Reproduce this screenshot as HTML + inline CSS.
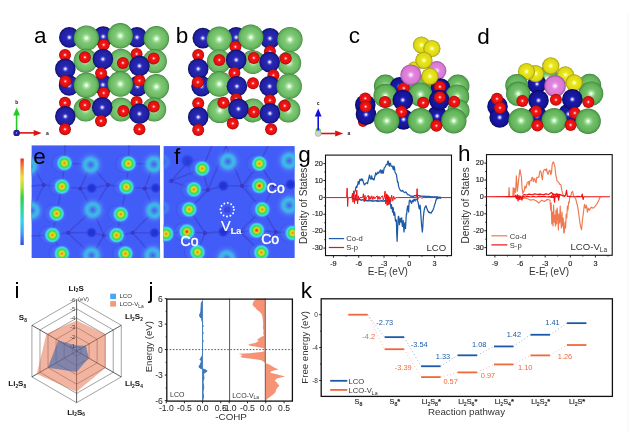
<!DOCTYPE html>
<html><head><meta charset="utf-8"><title>Figure</title>
<style>html,body{margin:0;padding:0;background:#fff;} svg{display:block;} text{font-family:'Liberation Sans', Arial, sans-serif;}</style>
</head><body>
<svg width="640" height="432" viewBox="0 0 640 432">
<defs>
<radialGradient id="gB" cx="50%" cy="50%" r="50%"><stop offset="0" stop-color="#ffffff"/><stop offset="0.06" stop-color="#e4e4ff"/><stop offset="0.17" stop-color="#6868e6"/><stop offset="0.3" stop-color="#2828b0"/><stop offset="0.78" stop-color="#2020a4"/><stop offset="0.93" stop-color="#141480"/><stop offset="1" stop-color="#080852"/></radialGradient>
<radialGradient id="gG" cx="50%" cy="50%" r="50%"><stop offset="0" stop-color="#ffffff"/><stop offset="0.06" stop-color="#f0fff0"/><stop offset="0.2" stop-color="#a8e4a0"/><stop offset="0.4" stop-color="#7ec876"/><stop offset="0.75" stop-color="#6ebc66"/><stop offset="0.92" stop-color="#5aa854"/><stop offset="1" stop-color="#3a7e38"/></radialGradient>
<radialGradient id="gb" cx="50%" cy="50%" r="50%"><stop offset="0" stop-color="#ffffff"/><stop offset="0.06" stop-color="#e4e4ff"/><stop offset="0.17" stop-color="#6060e4"/><stop offset="0.3" stop-color="#1a1aa6"/><stop offset="0.78" stop-color="#141498"/><stop offset="0.93" stop-color="#0c0c74"/><stop offset="1" stop-color="#06064a"/></radialGradient>
<radialGradient id="gg" cx="50%" cy="50%" r="50%"><stop offset="0" stop-color="#ffffff"/><stop offset="0.06" stop-color="#f0fff0"/><stop offset="0.2" stop-color="#a0e098"/><stop offset="0.4" stop-color="#72c06a"/><stop offset="0.75" stop-color="#64b45c"/><stop offset="0.92" stop-color="#52a04c"/><stop offset="1" stop-color="#347634"/></radialGradient>
<radialGradient id="gR" cx="50%" cy="50%" r="50%"><stop offset="0" stop-color="#ffffff"/><stop offset="0.08" stop-color="#ffd4d4"/><stop offset="0.2" stop-color="#ff4848"/><stop offset="0.35" stop-color="#f21616"/><stop offset="0.8" stop-color="#e20e0e"/><stop offset="1" stop-color="#a00808"/></radialGradient>
<radialGradient id="gY" cx="50%" cy="50%" r="50%"><stop offset="0" stop-color="#ffffff"/><stop offset="0.07" stop-color="#ffffd4"/><stop offset="0.2" stop-color="#f6f446"/><stop offset="0.35" stop-color="#e8e41c"/><stop offset="0.8" stop-color="#dcd816"/><stop offset="1" stop-color="#9a960a"/></radialGradient>
<radialGradient id="gP" cx="50%" cy="50%" r="50%"><stop offset="0" stop-color="#ffffff"/><stop offset="0.07" stop-color="#ffeaff"/><stop offset="0.2" stop-color="#f0aaf0"/><stop offset="0.35" stop-color="#e284de"/><stop offset="0.8" stop-color="#d87ad4"/><stop offset="1" stop-color="#a04c9c"/></radialGradient>
<radialGradient id="hs" cx="50%" cy="50%" r="50%">
<stop offset="0" stop-color="#f07a1e"/><stop offset="0.12" stop-color="#f4a622"/>
<stop offset="0.25" stop-color="#e0dc26"/><stop offset="0.38" stop-color="#9ee030"/>
<stop offset="0.5" stop-color="#3ed848"/><stop offset="0.62" stop-color="#30e0a0"/>
<stop offset="0.72" stop-color="#3ae6e0"/><stop offset="0.85" stop-color="#48c0f8" stop-opacity="0.8"/>
<stop offset="1" stop-color="#4a70f6" stop-opacity="0"/></radialGradient>
<radialGradient id="hr" cx="50%" cy="50%" r="50%">
<stop offset="0" stop-color="#e41c1c"/><stop offset="0.12" stop-color="#f0601e"/>
<stop offset="0.25" stop-color="#f0c020"/><stop offset="0.38" stop-color="#a8e030"/>
<stop offset="0.5" stop-color="#3ed848"/><stop offset="0.62" stop-color="#30e0a0"/>
<stop offset="0.72" stop-color="#3ae6e0"/><stop offset="0.85" stop-color="#48c0f8" stop-opacity="0.8"/>
<stop offset="1" stop-color="#4a70f6" stop-opacity="0"/></radialGradient>
<radialGradient id="cy" cx="50%" cy="50%" r="50%">
<stop offset="0" stop-color="#3c5ef0"/><stop offset="0.2" stop-color="#4a80ee"/>
<stop offset="0.45" stop-color="#3cb6e2"/><stop offset="0.6" stop-color="#3cbae4"/>
<stop offset="0.8" stop-color="#48a4f2" stop-opacity="0.55"/>
<stop offset="1" stop-color="#4a70f6" stop-opacity="0"/></radialGradient>
<radialGradient id="halo" cx="50%" cy="50%" r="50%">
<stop offset="0" stop-color="#58a0f8" stop-opacity="0.5"/><stop offset="0.7" stop-color="#5090f8" stop-opacity="0.35"/>
<stop offset="1" stop-color="#4a70f6" stop-opacity="0"/></radialGradient>
<radialGradient id="dk" cx="50%" cy="50%" r="50%">
<stop offset="0" stop-color="#1e30cc"/><stop offset="0.55" stop-color="#2638d8"/>
<stop offset="1" stop-color="#4258f4" stop-opacity="0"/></radialGradient>
<radialGradient id="sh" cx="50%" cy="50%" r="50%">
<stop offset="0" stop-color="#4e70f6" stop-opacity="0.5"/><stop offset="0.75" stop-color="#4a6cf4" stop-opacity="0.4"/>
<stop offset="0.9" stop-color="#3448e0" stop-opacity="0.3"/>
<stop offset="1" stop-color="#3048e0" stop-opacity="0"/></radialGradient>
<linearGradient id="cbar" x1="0" y1="0" x2="0" y2="1">
<stop offset="0" stop-color="#e83028"/><stop offset="0.1" stop-color="#f08a30"/>
<stop offset="0.22" stop-color="#f0e030"/><stop offset="0.33" stop-color="#b0e030"/>
<stop offset="0.45" stop-color="#30d040"/><stop offset="0.6" stop-color="#30d8a0"/>
<stop offset="0.72" stop-color="#30d8e8"/><stop offset="0.86" stop-color="#40a0f0"/>
<stop offset="1" stop-color="#3848e8"/></linearGradient>
<filter id="blur" x="-10%" y="-10%" width="120%" height="120%"><feGaussianBlur stdDeviation="0.5"/></filter>
<clipPath id="ce"><rect x="31.4" y="145.2" width="128.7" height="112.8"/></clipPath>
<clipPath id="cf"><rect x="163.4" y="146.1" width="131.4" height="111.9"/></clipPath>
</defs>
<rect x="0" y="0" width="640" height="432" fill="#fff"/>
<text x="34.1" y="43.4" font-size="22.5" text-anchor="start" fill="#000" font-weight="normal" >a</text>
<text x="175.7" y="43.3" font-size="22.5" text-anchor="start" fill="#000" font-weight="normal" >b</text>
<text x="348.7" y="43.3" font-size="22.5" text-anchor="start" fill="#000" font-weight="normal" >c</text>
<text x="477.3" y="43.9" font-size="22.5" text-anchor="start" fill="#000" font-weight="normal" >d</text>
<circle cx="103.2" cy="36.6" r="10.3" fill="url(#gB)"/>
<circle cx="69.3" cy="37.4" r="10.3" fill="url(#gB)"/>
<circle cx="137.0" cy="37.3" r="10.3" fill="url(#gB)"/>
<circle cx="86.4" cy="38.1" r="12.7" fill="url(#gG)"/>
<circle cx="120.3" cy="35.8" r="12.7" fill="url(#gG)"/>
<circle cx="156.4" cy="38.8" r="12.7" fill="url(#gG)"/>
<circle cx="85.6" cy="60.8" r="12.0" fill="url(#gG)"/>
<circle cx="121.0" cy="60.8" r="12.0" fill="url(#gG)"/>
<circle cx="154.9" cy="61.2" r="12.0" fill="url(#gG)"/>
<circle cx="65.0" cy="54.9" r="6.0" fill="url(#gR)"/>
<circle cx="103.7" cy="44.8" r="6.0" fill="url(#gR)"/>
<circle cx="136.6" cy="53.9" r="6.0" fill="url(#gR)"/>
<circle cx="65.3" cy="68.9" r="10.3" fill="url(#gB)"/>
<circle cx="102.9" cy="59.1" r="10.3" fill="url(#gB)"/>
<circle cx="139.4" cy="65.9" r="10.3" fill="url(#gB)"/>
<circle cx="84.9" cy="57.3" r="6.0" fill="url(#gR)"/>
<circle cx="122.9" cy="62.9" r="6.0" fill="url(#gR)"/>
<circle cx="153.7" cy="58.4" r="6.0" fill="url(#gR)"/>
<circle cx="69.1" cy="85.5" r="10.3" fill="url(#gB)"/>
<circle cx="102.9" cy="84.8" r="10.3" fill="url(#gB)"/>
<circle cx="137.6" cy="86.3" r="10.3" fill="url(#gB)"/>
<circle cx="65.3" cy="81.3" r="6.0" fill="url(#gR)"/>
<circle cx="101.1" cy="73.2" r="6.0" fill="url(#gR)"/>
<circle cx="139.4" cy="80.6" r="6.0" fill="url(#gR)"/>
<circle cx="86.4" cy="85.3" r="12.7" fill="url(#gG)"/>
<circle cx="120.3" cy="84.0" r="12.7" fill="url(#gG)"/>
<circle cx="156.4" cy="86.8" r="12.7" fill="url(#gG)"/>
<circle cx="85.6" cy="109.6" r="12.0" fill="url(#gG)"/>
<circle cx="121.0" cy="109.6" r="12.0" fill="url(#gG)"/>
<circle cx="154.2" cy="109.6" r="12.0" fill="url(#gG)"/>
<circle cx="65.0" cy="102.8" r="6.0" fill="url(#gR)"/>
<circle cx="103.7" cy="93.0" r="6.0" fill="url(#gR)"/>
<circle cx="136.6" cy="102.1" r="6.0" fill="url(#gR)"/>
<circle cx="65.3" cy="116.4" r="10.3" fill="url(#gB)"/>
<circle cx="102.2" cy="107.4" r="10.3" fill="url(#gB)"/>
<circle cx="139.4" cy="113.8" r="10.3" fill="url(#gB)"/>
<circle cx="84.9" cy="105.1" r="6.0" fill="url(#gR)"/>
<circle cx="123.3" cy="111.1" r="6.0" fill="url(#gR)"/>
<circle cx="153.7" cy="106.6" r="6.0" fill="url(#gR)"/>
<circle cx="65.0" cy="129.2" r="6.0" fill="url(#gR)"/>
<circle cx="101.0" cy="120.9" r="6.0" fill="url(#gR)"/>
<circle cx="139.4" cy="129.2" r="6.0" fill="url(#gR)"/>
<circle cx="236.2" cy="37.3" r="10.3" fill="url(#gB)"/>
<circle cx="202.8" cy="38.1" r="10.3" fill="url(#gB)"/>
<circle cx="269.9" cy="38.4" r="10.3" fill="url(#gB)"/>
<circle cx="219.3" cy="39.3" r="12.7" fill="url(#gG)"/>
<circle cx="250.8" cy="37.3" r="12.7" fill="url(#gG)"/>
<circle cx="289.9" cy="39.6" r="12.7" fill="url(#gG)"/>
<circle cx="269.9" cy="51.6" r="6.0" fill="url(#gR)"/>
<circle cx="218.9" cy="61.4" r="12.0" fill="url(#gG)"/>
<circle cx="253.0" cy="62.1" r="12.0" fill="url(#gG)"/>
<circle cx="289.2" cy="62.9" r="12.0" fill="url(#gG)"/>
<circle cx="198.2" cy="54.9" r="6.0" fill="url(#gR)"/>
<circle cx="235.4" cy="46.8" r="6.0" fill="url(#gR)"/>
<circle cx="198.2" cy="68.9" r="10.3" fill="url(#gB)"/>
<circle cx="236.2" cy="59.9" r="10.3" fill="url(#gB)"/>
<circle cx="269.6" cy="62.1" r="10.3" fill="url(#gB)"/>
<circle cx="219.3" cy="59.9" r="6.0" fill="url(#gR)"/>
<circle cx="253.8" cy="57.9" r="6.0" fill="url(#gR)"/>
<circle cx="285.7" cy="58.4" r="6.0" fill="url(#gR)"/>
<circle cx="201.6" cy="86.3" r="10.3" fill="url(#gB)"/>
<circle cx="197.8" cy="82.2" r="6.0" fill="url(#gR)"/>
<circle cx="234.4" cy="73.0" r="6.0" fill="url(#gR)"/>
<circle cx="273.4" cy="75.3" r="6.0" fill="url(#gR)"/>
<circle cx="219.3" cy="84.0" r="12.7" fill="url(#gG)"/>
<circle cx="236.9" cy="86.3" r="10.3" fill="url(#gB)"/>
<circle cx="269.6" cy="86.3" r="10.3" fill="url(#gB)"/>
<circle cx="289.2" cy="86.3" r="12.7" fill="url(#gG)"/>
<circle cx="253.0" cy="83.3" r="6.0" fill="url(#gR)"/>
<circle cx="236.2" cy="99.1" r="6.0" fill="url(#gR)"/>
<circle cx="269.9" cy="100.3" r="6.0" fill="url(#gR)"/>
<circle cx="253.0" cy="110.4" r="12.0" fill="url(#gG)"/>
<circle cx="288.4" cy="110.4" r="12.0" fill="url(#gG)"/>
<circle cx="219.9" cy="110.4" r="12.7" fill="url(#gG)"/>
<circle cx="198.2" cy="103.3" r="6.0" fill="url(#gR)"/>
<circle cx="223.4" cy="102.8" r="6.0" fill="url(#gR)"/>
<circle cx="198.2" cy="117.1" r="10.3" fill="url(#gB)"/>
<circle cx="238.4" cy="108.9" r="10.3" fill="url(#gB)"/>
<circle cx="269.9" cy="113.4" r="10.3" fill="url(#gB)"/>
<circle cx="253.8" cy="111.9" r="6.0" fill="url(#gR)"/>
<circle cx="284.7" cy="105.8" r="6.0" fill="url(#gR)"/>
<circle cx="198.2" cy="129.9" r="6.0" fill="url(#gR)"/>
<circle cx="232.8" cy="123.5" r="6.0" fill="url(#gR)"/>
<circle cx="271.1" cy="129.2" r="6.0" fill="url(#gR)"/>
<circle cx="421.5" cy="45.0" r="8.6" fill="url(#gY)"/>
<circle cx="431.9" cy="48.5" r="8.6" fill="url(#gY)"/>
<circle cx="414.0" cy="68.0" r="6.5" fill="url(#gY)"/>
<circle cx="436.8" cy="70.7" r="9.6" fill="url(#gP)"/>
<circle cx="423.9" cy="60.3" r="8.6" fill="url(#gY)"/>
<circle cx="385.4" cy="86.1" r="11.5" fill="url(#gg)"/>
<circle cx="420.4" cy="86.0" r="11.5" fill="url(#gg)"/>
<circle cx="457.9" cy="86.1" r="11.5" fill="url(#gg)"/>
<circle cx="399.5" cy="86.5" r="9.5" fill="url(#gb)"/>
<circle cx="440.5" cy="88.0" r="9.8" fill="url(#gb)"/>
<circle cx="403.8" cy="88.2" r="6.0" fill="url(#gR)"/>
<circle cx="439.9" cy="86.8" r="6.0" fill="url(#gR)"/>
<circle cx="410.8" cy="74.9" r="10.5" fill="url(#gP)"/>
<circle cx="429.9" cy="76.3" r="8.6" fill="url(#gY)"/>
<circle cx="385.4" cy="95.8" r="12.0" fill="url(#gg)"/>
<circle cx="420.4" cy="94.4" r="12.0" fill="url(#gg)"/>
<circle cx="457.2" cy="96.5" r="12.0" fill="url(#gg)"/>
<circle cx="365.3" cy="104.9" r="10.3" fill="url(#gb)"/>
<circle cx="365.3" cy="98.4" r="6.0" fill="url(#gR)"/>
<circle cx="403.5" cy="119.4" r="10.3" fill="url(#gb)"/>
<circle cx="437.1" cy="116.0" r="10.3" fill="url(#gb)"/>
<circle cx="458.5" cy="110.5" r="11.0" fill="url(#gg)"/>
<circle cx="385.0" cy="102.1" r="6.0" fill="url(#gR)"/>
<circle cx="402.8" cy="100.0" r="10.3" fill="url(#gb)"/>
<circle cx="439.2" cy="100.0" r="10.3" fill="url(#gb)"/>
<circle cx="439.9" cy="97.2" r="6.0" fill="url(#gR)"/>
<circle cx="423.2" cy="102.8" r="6.0" fill="url(#gR)"/>
<circle cx="454.2" cy="101.7" r="6.0" fill="url(#gR)"/>
<circle cx="401.4" cy="111.8" r="6.0" fill="url(#gR)"/>
<circle cx="363.0" cy="122.0" r="5.0" fill="url(#gR)"/>
<circle cx="366.0" cy="114.6" r="10.3" fill="url(#gb)"/>
<circle cx="365.6" cy="106.6" r="6.0" fill="url(#gR)"/>
<circle cx="386.8" cy="120.8" r="12.7" fill="url(#gg)"/>
<circle cx="420.4" cy="120.8" r="12.7" fill="url(#gg)"/>
<circle cx="453.8" cy="120.8" r="12.7" fill="url(#gg)"/>
<circle cx="436.4" cy="125.7" r="6.0" fill="url(#gR)"/>
<circle cx="546.7" cy="78.3" r="11.5" fill="url(#gg)"/>
<circle cx="537.0" cy="84.0" r="9.5" fill="url(#gb)"/>
<circle cx="535.6" cy="73.6" r="8.6" fill="url(#gY)"/>
<circle cx="526.5" cy="71.5" r="8.6" fill="url(#gY)"/>
<circle cx="550.8" cy="65.8" r="8.6" fill="url(#gY)"/>
<circle cx="565.4" cy="74.9" r="8.6" fill="url(#gY)"/>
<circle cx="516.8" cy="85.4" r="11.5" fill="url(#gg)"/>
<circle cx="589.7" cy="85.3" r="11.5" fill="url(#gg)"/>
<circle cx="574.2" cy="82.8" r="8.6" fill="url(#gY)"/>
<circle cx="555.0" cy="86.0" r="10.8" fill="url(#gP)"/>
<circle cx="518.2" cy="93.8" r="12.2" fill="url(#gg)"/>
<circle cx="591.1" cy="93.6" r="12.2" fill="url(#gg)"/>
<circle cx="497.5" cy="106.4" r="10.3" fill="url(#gb)"/>
<circle cx="497.0" cy="98.8" r="6.0" fill="url(#gR)"/>
<circle cx="568.4" cy="114.0" r="10.3" fill="url(#gb)"/>
<circle cx="537.0" cy="116.0" r="10.3" fill="url(#gb)"/>
<circle cx="538.5" cy="100.4" r="10.3" fill="url(#gb)"/>
<circle cx="572.3" cy="99.3" r="10.3" fill="url(#gb)"/>
<circle cx="522.4" cy="100.9" r="6.0" fill="url(#gR)"/>
<circle cx="555.9" cy="99.8" r="6.0" fill="url(#gR)"/>
<circle cx="588.4" cy="102.0" r="6.0" fill="url(#gR)"/>
<circle cx="536.0" cy="111.3" r="6.0" fill="url(#gR)"/>
<circle cx="574.8" cy="113.0" r="6.0" fill="url(#gR)"/>
<circle cx="499.7" cy="117.4" r="10.3" fill="url(#gb)"/>
<circle cx="500.0" cy="107.8" r="6.0" fill="url(#gR)"/>
<circle cx="521.0" cy="120.6" r="12.7" fill="url(#gg)"/>
<circle cx="554.2" cy="120.6" r="12.7" fill="url(#gg)"/>
<circle cx="588.1" cy="121.2" r="12.7" fill="url(#gg)"/>
<circle cx="537.4" cy="125.6" r="6.0" fill="url(#gR)"/>
<circle cx="570.6" cy="125.0" r="6.0" fill="url(#gR)"/>
<line x1="16.6" y1="131" x2="16.6" y2="114.9" stroke="#22cc22" stroke-width="1.6"/><polygon points="13.200000000000001,115.4 20.0,115.4 16.6,107.4" fill="#22cc22"/>
<line x1="18" y1="132.9" x2="34.2" y2="132.9" stroke="#e01010" stroke-width="1.6"/><polygon points="33.7,129.9 33.7,135.9 41.7,132.9" fill="#e01010"/>
<circle cx="16.6" cy="132.9" r="3.2" fill="url(#gB)"/>
<text x="16.8" y="103.5" font-size="5" text-anchor="middle" fill="#111" font-weight="bold" >b</text>
<text x="47.5" y="134.5" font-size="5" text-anchor="middle" fill="#111" font-weight="bold" >a</text>
<circle cx="318.2" cy="130.5" r="2.6" fill="#33dd33"/>
<line x1="318.2" y1="131" x2="318.2" y2="116.0" stroke="#1010e0" stroke-width="1.6"/><polygon points="314.8,116.5 321.59999999999997,116.5 318.2,108.5" fill="#1010e0"/>
<line x1="320" y1="133.5" x2="335.7" y2="133.5" stroke="#e01010" stroke-width="1.6"/><polygon points="335.2,130.5 335.2,136.5 343.2,133.5" fill="#e01010"/>
<circle cx="318.2" cy="133.5" r="3.0" fill="#d0d0d0" stroke="#888" stroke-width="0.4"/>
<text x="318.2" y="105.0" font-size="5" text-anchor="middle" fill="#111" font-weight="bold" >c</text>
<text x="349.0" y="135.0" font-size="5" text-anchor="middle" fill="#111" font-weight="bold" >a</text>
<g clip-path="url(#ce)">
<rect x="31.4" y="145.2" width="128.7" height="112.8" fill="#425cf8"/>
<g filter="url(#blur)"><line x1="65" y1="145" x2="64.5" y2="163.1" stroke="#3420a0" stroke-width="1.5" stroke-opacity="0.3"/>
<line x1="64.5" y1="163.1" x2="62" y2="186.5" stroke="#3420a0" stroke-width="1.5" stroke-opacity="0.3"/>
<line x1="62" y1="186.5" x2="56.6" y2="213.6" stroke="#3420a0" stroke-width="1.5" stroke-opacity="0.3"/>
<line x1="56.6" y1="213.6" x2="52.4" y2="235" stroke="#3420a0" stroke-width="1.5" stroke-opacity="0.3"/>
<line x1="52.4" y1="235" x2="61.9" y2="253.6" stroke="#3420a0" stroke-width="1.5" stroke-opacity="0.3"/>
<line x1="61.9" y1="253.6" x2="62" y2="258" stroke="#3420a0" stroke-width="1.5" stroke-opacity="0.3"/>
<line x1="129" y1="145" x2="128.4" y2="163.6" stroke="#3420a0" stroke-width="1.5" stroke-opacity="0.3"/>
<line x1="128.4" y1="163.6" x2="126.4" y2="186.9" stroke="#3420a0" stroke-width="1.5" stroke-opacity="0.3"/>
<line x1="126.4" y1="186.9" x2="120.8" y2="214.2" stroke="#3420a0" stroke-width="1.5" stroke-opacity="0.3"/>
<line x1="120.8" y1="214.2" x2="116.6" y2="235.2" stroke="#3420a0" stroke-width="1.5" stroke-opacity="0.3"/>
<line x1="116.6" y1="235.2" x2="125.4" y2="253.6" stroke="#3420a0" stroke-width="1.5" stroke-opacity="0.3"/>
<line x1="125.4" y1="253.6" x2="126" y2="258" stroke="#3420a0" stroke-width="1.5" stroke-opacity="0.3"/>
<line x1="31" y1="186" x2="43.8" y2="185" stroke="#3420a0" stroke-width="1.5" stroke-opacity="0.3"/>
<line x1="43.8" y1="185" x2="62" y2="186.5" stroke="#3420a0" stroke-width="1.5" stroke-opacity="0.3"/>
<line x1="62" y1="186.5" x2="80.3" y2="188.6" stroke="#3420a0" stroke-width="1.5" stroke-opacity="0.3"/>
<line x1="80.3" y1="188.6" x2="91.7" y2="188.2" stroke="#3420a0" stroke-width="1.5" stroke-opacity="0.3"/>
<line x1="91.7" y1="188.2" x2="108.2" y2="185" stroke="#3420a0" stroke-width="1.5" stroke-opacity="0.3"/>
<line x1="108.2" y1="185" x2="126.4" y2="186.9" stroke="#3420a0" stroke-width="1.5" stroke-opacity="0.3"/>
<line x1="126.4" y1="186.9" x2="144.7" y2="188.6" stroke="#3420a0" stroke-width="1.5" stroke-opacity="0.3"/>
<line x1="144.7" y1="188.6" x2="155.6" y2="188.1" stroke="#3420a0" stroke-width="1.5" stroke-opacity="0.3"/>
<line x1="155.6" y1="188.1" x2="161" y2="188" stroke="#3420a0" stroke-width="1.5" stroke-opacity="0.3"/>
<line x1="31" y1="236" x2="52.4" y2="235" stroke="#3420a0" stroke-width="1.5" stroke-opacity="0.3"/>
<line x1="52.4" y1="235" x2="68" y2="232.8" stroke="#3420a0" stroke-width="1.5" stroke-opacity="0.3"/>
<line x1="68" y1="232.8" x2="91.5" y2="232.6" stroke="#3420a0" stroke-width="1.5" stroke-opacity="0.3"/>
<line x1="91.5" y1="232.6" x2="104" y2="235.5" stroke="#3420a0" stroke-width="1.5" stroke-opacity="0.3"/>
<line x1="104" y1="235.5" x2="116.6" y2="235.2" stroke="#3420a0" stroke-width="1.5" stroke-opacity="0.3"/>
<line x1="116.6" y1="235.2" x2="132.6" y2="232.8" stroke="#3420a0" stroke-width="1.5" stroke-opacity="0.3"/>
<line x1="132.6" y1="232.8" x2="154.5" y2="232.8" stroke="#3420a0" stroke-width="1.5" stroke-opacity="0.3"/>
<line x1="154.5" y1="232.8" x2="161" y2="233" stroke="#3420a0" stroke-width="1.5" stroke-opacity="0.3"/>
<line x1="80.3" y1="188.6" x2="90.7" y2="164.8" stroke="#3420a0" stroke-width="1.5" stroke-opacity="0.3"/>
<line x1="108.2" y1="185" x2="90.7" y2="164.8" stroke="#3420a0" stroke-width="1.5" stroke-opacity="0.3"/>
<line x1="80.3" y1="188.6" x2="92.8" y2="209.8" stroke="#3420a0" stroke-width="1.5" stroke-opacity="0.3"/>
<line x1="108.2" y1="185" x2="92.8" y2="209.8" stroke="#3420a0" stroke-width="1.5" stroke-opacity="0.3"/>
<line x1="144.7" y1="188.6" x2="153.9" y2="164.3" stroke="#3420a0" stroke-width="1.5" stroke-opacity="0.3"/>
<line x1="144.7" y1="188.6" x2="154.4" y2="210.5" stroke="#3420a0" stroke-width="1.5" stroke-opacity="0.3"/>
<line x1="43.8" y1="185" x2="31.6" y2="210.5" stroke="#3420a0" stroke-width="1.5" stroke-opacity="0.3"/>
<line x1="43.8" y1="185" x2="33" y2="166" stroke="#3420a0" stroke-width="1.5" stroke-opacity="0.3"/>
<line x1="68" y1="232.8" x2="92.8" y2="209.8" stroke="#3420a0" stroke-width="1.5" stroke-opacity="0.3"/>
<line x1="104" y1="235.5" x2="92.8" y2="209.8" stroke="#3420a0" stroke-width="1.5" stroke-opacity="0.3"/>
<line x1="68" y1="232.8" x2="91.5" y2="255.5" stroke="#3420a0" stroke-width="1.5" stroke-opacity="0.3"/>
<line x1="104" y1="235.5" x2="91.5" y2="255.5" stroke="#3420a0" stroke-width="1.5" stroke-opacity="0.3"/>
<line x1="132.6" y1="232.8" x2="154.4" y2="210.5" stroke="#3420a0" stroke-width="1.5" stroke-opacity="0.3"/>
<line x1="132.6" y1="232.8" x2="152.7" y2="255.5" stroke="#3420a0" stroke-width="1.5" stroke-opacity="0.3"/>
<line x1="64.5" y1="163.1" x2="90.7" y2="164.8" stroke="#3420a0" stroke-width="1.5" stroke-opacity="0.3"/>
<line x1="128.4" y1="163.6" x2="153.9" y2="164.3" stroke="#3420a0" stroke-width="1.5" stroke-opacity="0.3"/></g>
<circle cx="91.7" cy="188.2" r="6.2" fill="url(#dk)"/>
<circle cx="155.6" cy="188.1" r="6.2" fill="url(#dk)"/>
<circle cx="91.5" cy="232.6" r="6.2" fill="url(#dk)"/>
<circle cx="154.5" cy="232.8" r="6.2" fill="url(#dk)"/>
<circle cx="43.8" cy="185" r="1.7" fill="#3a38c0" fill-opacity="0.5" stroke="#3420a0" stroke-opacity="0.5" stroke-width="0.8"/>
<circle cx="80.3" cy="188.6" r="1.7" fill="#3a38c0" fill-opacity="0.5" stroke="#3420a0" stroke-opacity="0.5" stroke-width="0.8"/>
<circle cx="108.2" cy="185" r="1.7" fill="#3a38c0" fill-opacity="0.5" stroke="#3420a0" stroke-opacity="0.5" stroke-width="0.8"/>
<circle cx="144.7" cy="188.6" r="1.7" fill="#3a38c0" fill-opacity="0.5" stroke="#3420a0" stroke-opacity="0.5" stroke-width="0.8"/>
<circle cx="68" cy="232.8" r="1.7" fill="#3a38c0" fill-opacity="0.5" stroke="#3420a0" stroke-opacity="0.5" stroke-width="0.8"/>
<circle cx="104" cy="235.5" r="1.7" fill="#3a38c0" fill-opacity="0.5" stroke="#3420a0" stroke-opacity="0.5" stroke-width="0.8"/>
<circle cx="132.6" cy="232.8" r="1.7" fill="#3a38c0" fill-opacity="0.5" stroke="#3420a0" stroke-opacity="0.5" stroke-width="0.8"/>
<circle cx="60.5" cy="163.1" r="10" fill="url(#sh)"/>
<circle cx="58" cy="186.5" r="10" fill="url(#sh)"/>
<circle cx="52.6" cy="213.6" r="10" fill="url(#sh)"/>
<circle cx="48.4" cy="235" r="10" fill="url(#sh)"/>
<circle cx="57.9" cy="253.6" r="10" fill="url(#sh)"/>
<circle cx="124.4" cy="163.6" r="10" fill="url(#sh)"/>
<circle cx="122.4" cy="186.9" r="10" fill="url(#sh)"/>
<circle cx="116.8" cy="214.2" r="10" fill="url(#sh)"/>
<circle cx="112.6" cy="235.2" r="10" fill="url(#sh)"/>
<circle cx="121.4" cy="253.6" r="10" fill="url(#sh)"/>
<circle cx="29" cy="166" r="14" fill="url(#halo)"/>
<circle cx="90.7" cy="164.8" r="14" fill="url(#halo)"/>
<circle cx="153.9" cy="164.3" r="14" fill="url(#halo)"/>
<circle cx="92.8" cy="209.8" r="14" fill="url(#halo)"/>
<circle cx="154.4" cy="210.5" r="14" fill="url(#halo)"/>
<circle cx="31.6" cy="210.5" r="14" fill="url(#halo)"/>
<circle cx="91.5" cy="255.5" r="14" fill="url(#halo)"/>
<circle cx="152.7" cy="255.5" r="14" fill="url(#halo)"/>
<circle cx="29" cy="166" r="10.5" fill="url(#cy)"/>
<circle cx="90.7" cy="164.8" r="10.5" fill="url(#cy)"/>
<circle cx="153.9" cy="164.3" r="10.5" fill="url(#cy)"/>
<circle cx="92.8" cy="209.8" r="10.5" fill="url(#cy)"/>
<circle cx="154.4" cy="210.5" r="10.5" fill="url(#cy)"/>
<circle cx="31.6" cy="210.5" r="10.5" fill="url(#cy)"/>
<circle cx="91.5" cy="255.5" r="10.5" fill="url(#cy)"/>
<circle cx="152.7" cy="255.5" r="10.5" fill="url(#cy)"/>
<circle cx="64.5" cy="163.1" r="10.5" fill="url(#halo)"/>
<circle cx="62" cy="186.5" r="10.5" fill="url(#halo)"/>
<circle cx="56.6" cy="213.6" r="10.5" fill="url(#halo)"/>
<circle cx="52.4" cy="235" r="10.5" fill="url(#halo)"/>
<circle cx="61.9" cy="253.6" r="10.5" fill="url(#halo)"/>
<circle cx="128.4" cy="163.6" r="10.5" fill="url(#halo)"/>
<circle cx="126.4" cy="186.9" r="10.5" fill="url(#halo)"/>
<circle cx="120.8" cy="214.2" r="10.5" fill="url(#halo)"/>
<circle cx="116.6" cy="235.2" r="10.5" fill="url(#halo)"/>
<circle cx="125.4" cy="253.6" r="10.5" fill="url(#halo)"/>
<circle cx="64.5" cy="163.1" r="8.2" fill="url(#hs)"/>
<circle cx="62" cy="186.5" r="8.2" fill="url(#hs)"/>
<circle cx="56.6" cy="213.6" r="8.2" fill="url(#hs)"/>
<circle cx="52.4" cy="235" r="8.2" fill="url(#hs)"/>
<circle cx="61.9" cy="253.6" r="8.2" fill="url(#hs)"/>
<circle cx="128.4" cy="163.6" r="8.2" fill="url(#hs)"/>
<circle cx="126.4" cy="186.9" r="8.2" fill="url(#hs)"/>
<circle cx="120.8" cy="214.2" r="8.2" fill="url(#hs)"/>
<circle cx="116.6" cy="235.2" r="8.2" fill="url(#hs)"/>
<circle cx="125.4" cy="253.6" r="8.2" fill="url(#hs)"/>
</g>
<text x="33.2" y="164.3" font-size="22.5" text-anchor="start" fill="#000" font-weight="normal" >e</text>
<g clip-path="url(#cf)">
<rect x="163.4" y="146.1" width="131.4" height="111.9" fill="#425cf8"/>
<g filter="url(#blur)"><line x1="171" y1="181" x2="193.9" y2="189.4" stroke="#3420a0" stroke-width="1.5" stroke-opacity="0.32"/>
<line x1="171" y1="181" x2="202.2" y2="168.6" stroke="#3420a0" stroke-width="1.5" stroke-opacity="0.32"/>
<line x1="171" y1="181" x2="189.2" y2="160.8" stroke="#3420a0" stroke-width="1.5" stroke-opacity="0.32"/>
<line x1="208" y1="190" x2="193.9" y2="189.4" stroke="#3420a0" stroke-width="1.5" stroke-opacity="0.32"/>
<line x1="208" y1="190" x2="223.3" y2="185.8" stroke="#3420a0" stroke-width="1.5" stroke-opacity="0.32"/>
<line x1="208" y1="190" x2="202.2" y2="168.6" stroke="#3420a0" stroke-width="1.5" stroke-opacity="0.32"/>
<line x1="208" y1="190" x2="189.2" y2="209.4" stroke="#3420a0" stroke-width="1.5" stroke-opacity="0.32"/>
<line x1="223.3" y1="185.8" x2="242" y2="186" stroke="#3420a0" stroke-width="1.5" stroke-opacity="0.32"/>
<line x1="242" y1="186" x2="259.4" y2="185.8" stroke="#3420a0" stroke-width="1.5" stroke-opacity="0.32"/>
<line x1="242" y1="186" x2="259.4" y2="163.6" stroke="#3420a0" stroke-width="1.5" stroke-opacity="0.32"/>
<line x1="242" y1="186" x2="262.2" y2="209.4" stroke="#3420a0" stroke-width="1.5" stroke-opacity="0.32"/>
<line x1="274" y1="186" x2="290.6" y2="184.4" stroke="#3420a0" stroke-width="1.5" stroke-opacity="0.32"/>
<line x1="274" y1="186" x2="259.4" y2="185.8" stroke="#3420a0" stroke-width="1.5" stroke-opacity="0.32"/>
<line x1="274" y1="186" x2="259.4" y2="163.6" stroke="#3420a0" stroke-width="1.5" stroke-opacity="0.32"/>
<line x1="274" y1="186" x2="262.2" y2="209.4" stroke="#3420a0" stroke-width="1.5" stroke-opacity="0.32"/>
<line x1="172" y1="233" x2="186.9" y2="231.7" stroke="#3420a0" stroke-width="1.5" stroke-opacity="0.32"/>
<line x1="205" y1="233" x2="186.9" y2="231.7" stroke="#3420a0" stroke-width="1.5" stroke-opacity="0.32"/>
<line x1="205" y1="233" x2="223.3" y2="231.7" stroke="#3420a0" stroke-width="1.5" stroke-opacity="0.32"/>
<line x1="205" y1="233" x2="189.2" y2="209.4" stroke="#3420a0" stroke-width="1.5" stroke-opacity="0.32"/>
<line x1="205" y1="233" x2="197.5" y2="252.2" stroke="#3420a0" stroke-width="1.5" stroke-opacity="0.32"/>
<line x1="240" y1="232" x2="223.3" y2="231.7" stroke="#3420a0" stroke-width="1.5" stroke-opacity="0.32"/>
<line x1="240" y1="232" x2="256.7" y2="230.3" stroke="#3420a0" stroke-width="1.5" stroke-opacity="0.32"/>
<line x1="240" y1="232" x2="262.2" y2="209.4" stroke="#3420a0" stroke-width="1.5" stroke-opacity="0.32"/>
<line x1="240" y1="232" x2="261.4" y2="252.5" stroke="#3420a0" stroke-width="1.5" stroke-opacity="0.32"/>
<line x1="276" y1="232" x2="256.7" y2="230.3" stroke="#3420a0" stroke-width="1.5" stroke-opacity="0.32"/>
<line x1="276" y1="232" x2="292.8" y2="233" stroke="#3420a0" stroke-width="1.5" stroke-opacity="0.32"/>
<line x1="276" y1="232" x2="262.2" y2="209.4" stroke="#3420a0" stroke-width="1.5" stroke-opacity="0.32"/>
<line x1="276" y1="232" x2="261.4" y2="252.5" stroke="#3420a0" stroke-width="1.5" stroke-opacity="0.32"/>
<line x1="202.2" y1="168.6" x2="212" y2="146" stroke="#3420a0" stroke-width="1.5" stroke-opacity="0.32"/>
<line x1="259.4" y1="163.6" x2="268" y2="146" stroke="#3420a0" stroke-width="1.5" stroke-opacity="0.32"/>
<line x1="226" y1="146" x2="242" y2="186" stroke="#3420a0" stroke-width="1.5" stroke-opacity="0.32"/>
<line x1="226" y1="146" x2="208" y2="190" stroke="#3420a0" stroke-width="1.5" stroke-opacity="0.32"/></g>
<circle cx="223.3" cy="185.8" r="6.5" fill="url(#dk)"/>
<circle cx="223.3" cy="231.7" r="6.5" fill="url(#dk)"/>
<circle cx="290.6" cy="184.4" r="6.5" fill="url(#dk)"/>
<circle cx="171" cy="181" r="1.7" fill="#3a38c0" fill-opacity="0.5" stroke="#3420a0" stroke-opacity="0.5" stroke-width="0.8"/>
<circle cx="208" cy="190" r="1.7" fill="#3a38c0" fill-opacity="0.5" stroke="#3420a0" stroke-opacity="0.5" stroke-width="0.8"/>
<circle cx="242" cy="186" r="1.7" fill="#3a38c0" fill-opacity="0.5" stroke="#3420a0" stroke-opacity="0.5" stroke-width="0.8"/>
<circle cx="274" cy="186" r="1.7" fill="#3a38c0" fill-opacity="0.5" stroke="#3420a0" stroke-opacity="0.5" stroke-width="0.8"/>
<circle cx="205" cy="233" r="1.7" fill="#3a38c0" fill-opacity="0.5" stroke="#3420a0" stroke-opacity="0.5" stroke-width="0.8"/>
<circle cx="240" cy="232" r="1.7" fill="#3a38c0" fill-opacity="0.5" stroke="#3420a0" stroke-opacity="0.5" stroke-width="0.8"/>
<circle cx="276" cy="232" r="1.7" fill="#3a38c0" fill-opacity="0.5" stroke="#3420a0" stroke-opacity="0.5" stroke-width="0.8"/>
<circle cx="187.5" cy="161" r="8" fill="url(#dk)" opacity="0.7"/>
<circle cx="163" cy="208" r="8" fill="url(#cy)" opacity="0.35"/>
<circle cx="163" cy="162" r="9" fill="url(#cy)" opacity="0.3"/>
<circle cx="198.2" cy="168.6" r="10" fill="url(#sh)"/>
<circle cx="189.9" cy="189.4" r="10" fill="url(#sh)"/>
<circle cx="185.2" cy="209.4" r="10" fill="url(#sh)"/>
<circle cx="193.5" cy="252.2" r="10" fill="url(#sh)"/>
<circle cx="255.39999999999998" cy="163.6" r="10" fill="url(#sh)"/>
<circle cx="258.2" cy="209.4" r="10" fill="url(#sh)"/>
<circle cx="257.4" cy="252.5" r="10" fill="url(#sh)"/>
<circle cx="288.8" cy="233" r="10" fill="url(#sh)"/>
<circle cx="162.1" cy="233.9" r="10" fill="url(#sh)"/>
<circle cx="182.9" cy="231.7" r="10" fill="url(#sh)"/>
<circle cx="255.39999999999998" cy="185.8" r="10" fill="url(#sh)"/>
<circle cx="252.7" cy="230.3" r="10" fill="url(#sh)"/>
<circle cx="228" cy="161.5" r="14" fill="url(#halo)"/>
<circle cx="289.2" cy="160.8" r="14" fill="url(#halo)"/>
<circle cx="289.2" cy="205.3" r="14" fill="url(#halo)"/>
<circle cx="226.7" cy="258.5" r="14" fill="url(#halo)"/>
<circle cx="228" cy="161.5" r="10.5" fill="url(#cy)"/>
<circle cx="289.2" cy="160.8" r="10.5" fill="url(#cy)"/>
<circle cx="289.2" cy="205.3" r="10.5" fill="url(#cy)"/>
<circle cx="226.7" cy="258.5" r="10.5" fill="url(#cy)"/>
<circle cx="202.2" cy="168.6" r="10.5" fill="url(#halo)"/>
<circle cx="193.9" cy="189.4" r="10.5" fill="url(#halo)"/>
<circle cx="189.2" cy="209.4" r="10.5" fill="url(#halo)"/>
<circle cx="197.5" cy="252.2" r="10.5" fill="url(#halo)"/>
<circle cx="259.4" cy="163.6" r="10.5" fill="url(#halo)"/>
<circle cx="262.2" cy="209.4" r="10.5" fill="url(#halo)"/>
<circle cx="261.4" cy="252.5" r="10.5" fill="url(#halo)"/>
<circle cx="292.8" cy="233" r="10.5" fill="url(#halo)"/>
<circle cx="166.1" cy="233.9" r="10.5" fill="url(#halo)"/>
<circle cx="186.9" cy="231.7" r="10.5" fill="url(#halo)"/>
<circle cx="259.4" cy="185.8" r="10.5" fill="url(#halo)"/>
<circle cx="256.7" cy="230.3" r="10.5" fill="url(#halo)"/>
<circle cx="202.2" cy="168.6" r="8.2" fill="url(#hs)"/>
<circle cx="193.9" cy="189.4" r="8.2" fill="url(#hs)"/>
<circle cx="189.2" cy="209.4" r="8.2" fill="url(#hs)"/>
<circle cx="197.5" cy="252.2" r="8.2" fill="url(#hs)"/>
<circle cx="259.4" cy="163.6" r="8.2" fill="url(#hs)"/>
<circle cx="262.2" cy="209.4" r="8.2" fill="url(#hs)"/>
<circle cx="261.4" cy="252.5" r="8.2" fill="url(#hs)"/>
<circle cx="292.8" cy="233" r="8.2" fill="url(#hs)"/>
<circle cx="166.1" cy="233.9" r="8.2" fill="url(#hs)"/>
<circle cx="186.9" cy="231.7" r="8.4" fill="url(#hr)"/>
<circle cx="259.4" cy="185.8" r="8.4" fill="url(#hr)"/>
<circle cx="256.7" cy="230.3" r="8.4" fill="url(#hr)"/>
</g>
<text x="174.0" y="163.6" font-size="22.5" text-anchor="start" fill="#000" font-weight="normal" >f</text>
<circle cx="227.2" cy="209.7" r="3.2" fill="#3a3cd0" opacity="0.7"/>
<circle cx="227.2" cy="209.7" r="6.8" fill="none" stroke="#fff" stroke-width="1.9" stroke-dasharray="0.05 3.555" stroke-linecap="round"/>
<text x="221" y="230.8" font-size="14.5" fill="#fff" stroke="#fff" stroke-width="0.2">V<tspan font-size="9" dy="3.4" font-weight="bold">La</tspan></text>
<text x="266.8" y="193.4" font-size="14.0" text-anchor="start" fill="#fff" font-weight="normal" stroke="#fff" stroke-width="0.45">Co</text>
<text x="180.6" y="245.8" font-size="14.0" text-anchor="start" fill="#fff" font-weight="normal" stroke="#fff" stroke-width="0.45">Co</text>
<text x="261.2" y="244.3" font-size="14.0" text-anchor="start" fill="#fff" font-weight="normal" stroke="#fff" stroke-width="0.45">Co</text>
<rect x="20.4" y="158.5" width="3.4" height="86.5" fill="url(#cbar)"/>
<rect x="325.5" y="155.1" width="126.0" height="100.5" fill="none" stroke="#111" stroke-width="1.1"/>
<line x1="323.3" y1="163.60" x2="325.5" y2="163.60" stroke="#111" stroke-width="0.9"/>
<text x="322.9" y="165.70" font-size="7.3" text-anchor="end" fill="#222" font-weight="normal" stroke="#222" stroke-width="0.15">20</text>
<line x1="323.3" y1="180.50" x2="325.5" y2="180.50" stroke="#111" stroke-width="0.9"/>
<text x="322.9" y="182.60" font-size="7.3" text-anchor="end" fill="#222" font-weight="normal" stroke="#222" stroke-width="0.15">10</text>
<line x1="323.3" y1="197.40" x2="325.5" y2="197.40" stroke="#111" stroke-width="0.9"/>
<text x="322.9" y="199.50" font-size="7.3" text-anchor="end" fill="#222" font-weight="normal" stroke="#222" stroke-width="0.15">0</text>
<line x1="323.3" y1="214.30" x2="325.5" y2="214.30" stroke="#111" stroke-width="0.9"/>
<text x="322.9" y="216.40" font-size="7.3" text-anchor="end" fill="#222" font-weight="normal" stroke="#222" stroke-width="0.15">-10</text>
<line x1="323.3" y1="231.20" x2="325.5" y2="231.20" stroke="#111" stroke-width="0.9"/>
<text x="322.9" y="233.30" font-size="7.3" text-anchor="end" fill="#222" font-weight="normal" stroke="#222" stroke-width="0.15">-20</text>
<line x1="323.3" y1="248.10" x2="325.5" y2="248.10" stroke="#111" stroke-width="0.9"/>
<text x="322.9" y="250.20" font-size="7.3" text-anchor="end" fill="#222" font-weight="normal" stroke="#222" stroke-width="0.15">-30</text>
<line x1="324.2" y1="172.05" x2="325.5" y2="172.05" stroke="#111" stroke-width="0.8"/>
<line x1="324.2" y1="188.95" x2="325.5" y2="188.95" stroke="#111" stroke-width="0.8"/>
<line x1="324.2" y1="205.85" x2="325.5" y2="205.85" stroke="#111" stroke-width="0.8"/>
<line x1="324.2" y1="222.75" x2="325.5" y2="222.75" stroke="#111" stroke-width="0.8"/>
<line x1="324.2" y1="239.65" x2="325.5" y2="239.65" stroke="#111" stroke-width="0.8"/>
<line x1="333.43" y1="255.6" x2="333.43" y2="257.8" stroke="#111" stroke-width="0.9"/>
<text x="333.43" y="265.80" font-size="7.3" text-anchor="middle" fill="#222" font-weight="normal" stroke="#222" stroke-width="0.15">-9</text>
<line x1="358.72" y1="255.6" x2="358.72" y2="257.8" stroke="#111" stroke-width="0.9"/>
<text x="358.72" y="265.80" font-size="7.3" text-anchor="middle" fill="#222" font-weight="normal" stroke="#222" stroke-width="0.15">-6</text>
<line x1="384.01" y1="255.6" x2="384.01" y2="257.8" stroke="#111" stroke-width="0.9"/>
<text x="384.01" y="265.80" font-size="7.3" text-anchor="middle" fill="#222" font-weight="normal" stroke="#222" stroke-width="0.15">-3</text>
<line x1="409.30" y1="255.6" x2="409.30" y2="257.8" stroke="#111" stroke-width="0.9"/>
<text x="409.30" y="265.80" font-size="7.3" text-anchor="middle" fill="#222" font-weight="normal" stroke="#222" stroke-width="0.15">0</text>
<line x1="434.59" y1="255.6" x2="434.59" y2="257.8" stroke="#111" stroke-width="0.9"/>
<text x="434.59" y="265.80" font-size="7.3" text-anchor="middle" fill="#222" font-weight="normal" stroke="#222" stroke-width="0.15">3</text>
<line x1="346.08" y1="255.6" x2="346.08" y2="256.9" stroke="#111" stroke-width="0.8"/>
<line x1="371.37" y1="255.6" x2="371.37" y2="256.9" stroke="#111" stroke-width="0.8"/>
<line x1="396.66" y1="255.6" x2="396.66" y2="256.9" stroke="#111" stroke-width="0.8"/>
<line x1="421.94" y1="255.6" x2="421.94" y2="256.9" stroke="#111" stroke-width="0.8"/>
<line x1="447.24" y1="255.6" x2="447.24" y2="256.9" stroke="#111" stroke-width="0.8"/>
<text x="303.6" y="205.85" font-size="10.1" fill="#333" text-anchor="middle" transform="rotate(-90 303.6 205.85)" dy="3.5">Density of States</text>
<text x="387.8" y="275.2" font-size="10" fill="#333" text-anchor="middle">E-E<tspan font-size="6.8" dy="2.2">f</tspan><tspan dy="-2.2"> (eV)</tspan></text>
<polyline points="351.72,198.81 352.10,198.88 352.48,198.05 352.86,198.15 353.24,198.99 353.63,198.97 354.01,198.98 354.39,198.69 354.77,199.06 355.15,199.14 355.53,199.19 355.92,198.84 356.30,199.19 356.68,199.23 357.06,199.64 357.44,199.99 357.82,200.02 358.21,199.68 358.59,199.61 358.97,199.47 359.35,199.27 359.73,199.30 360.11,199.79 360.50,199.68 360.88,199.78 361.26,200.34 361.64,200.00 362.02,200.07 362.40,199.78 362.79,199.60 363.17,199.95 363.55,199.80 363.93,200.21 364.31,200.75 364.69,200.46 365.08,199.99 365.46,200.76 365.84,200.69 366.22,200.65 366.60,200.84 366.98,200.71 367.37,200.76 367.75,200.33 368.13,200.99 368.51,200.99 368.89,200.20 369.27,200.82 369.66,200.80 370.04,200.56 370.42,200.65 370.80,200.63 371.18,201.09 371.56,200.68 371.95,201.03 372.33,200.56 372.71,201.12 373.09,201.16 373.47,200.73 373.85,200.86 374.24,201.24 374.62,201.05 375.00,200.83 375.38,200.58 375.76,200.71 376.15,201.09 376.53,200.55 376.91,201.31 377.29,200.65 377.67,201.31 378.05,200.70 378.44,201.36 378.82,201.10 379.20,200.89 379.58,200.91 379.96,201.04 380.34,200.98 380.73,200.70 381.11,200.59 381.49,200.90 381.87,201.33 382.25,201.02 382.63,200.46 383.02,201.22 383.40,201.12 383.78,201.31 384.16,200.58 384.54,201.14 384.92,200.44 385.31,201.05 385.69,200.66 386.07,200.61 386.45,201.27 386.83,200.49 387.21,200.91 387.60,201.25 387.98,200.63 388.36,200.60 388.74,201.28 389.12,200.81 389.50,201.11 389.89,200.41 390.27,203.33 390.65,205.61 391.03,208.42 391.41,204.71 391.79,207.37 392.18,208.35 392.56,212.19 392.94,207.49 393.32,208.20 393.70,214.99 394.08,215.32 394.47,212.22 394.85,213.77 395.23,219.20 395.61,221.12 395.99,220.20 396.37,219.97 396.76,234.25 397.14,241.34 397.52,231.35 397.90,223.05 398.28,216.67 398.66,216.30 399.05,221.09 399.43,224.57 399.81,220.70 400.19,218.37 400.57,221.80 400.95,222.03 401.34,218.54 401.72,217.84 402.10,224.13 402.48,226.35 402.86,222.59 403.24,220.69 403.63,227.67 404.01,231.90 404.39,227.48 404.77,222.87 405.15,228.72 405.53,228.55 405.92,221.29 406.30,214.22 406.68,214.17 407.06,209.27 407.44,207.15 407.82,205.95 408.21,209.17 408.59,211.88 408.97,204.88 409.35,200.65 409.73,200.10 410.11,200.02 410.50,200.99 410.88,202.30 411.26,202.93 411.64,203.29 412.02,201.33 412.40,200.44 412.79,200.62 413.17,201.79 413.55,200.64 413.93,199.08 414.31,199.11 414.69,200.24 415.08,201.10 415.46,199.88 415.84,199.29 416.22,199.07 416.60,199.11 416.98,199.72 417.37,200.73 417.75,201.10 418.13,202.39 418.51,204.76 418.89,207.48 419.27,208.84 419.66,206.98 420.04,205.06 420.42,208.55 420.80,214.21 421.18,219.36 421.56,224.78 421.95,228.16 422.33,232.05 422.71,228.50 423.09,221.27 423.47,216.09 423.85,212.35 424.24,210.20 424.62,208.23 425.00,207.17 425.38,206.80 425.76,205.97 426.15,205.95 426.53,207.81 426.91,208.52 427.29,209.56 427.67,210.73 428.05,211.18 428.44,211.31 428.82,212.48 429.20,212.31 429.58,212.21 429.96,213.04 430.34,212.60 430.73,212.81 431.11,213.04 431.49,212.57 431.87,211.59 432.25,211.35 432.63,210.62 433.02,210.01 433.40,208.74 433.78,207.98 434.16,206.31 434.54,205.28 434.92,203.94 435.31,203.08 435.69,200.90 436.07,200.35 436.45,198.54 436.83,198.82 437.21,198.53 437.60,198.49 437.98,198.68 438.36,198.20 438.74,197.81 439.12,197.69 439.50,197.54 439.89,198.21 440.27,197.88 440.65,198.09 440.78,197.58" fill="none" stroke="#1e5aa6" stroke-width="1.25" stroke-linejoin="round"/>
<polyline points="351.72,197.30 352.23,196.98 352.74,196.04 353.24,194.78 353.75,193.89 354.26,192.58 354.77,191.73 355.28,190.81 355.79,187.77 356.30,186.46 356.81,187.50 357.32,185.45 357.82,183.75 358.33,181.39 358.84,184.21 359.35,182.75 359.86,179.34 360.37,180.40 360.88,179.52 361.39,178.96 361.90,180.60 362.40,179.03 362.91,180.32 363.42,182.33 363.93,183.88 364.44,184.92 364.95,184.43 365.46,183.69 365.97,183.02 366.48,182.92 366.98,182.96 367.49,183.67 368.00,181.29 368.51,179.57 369.02,177.20 369.53,174.99 370.04,177.45 370.55,179.02 371.06,179.24 371.56,175.79 372.07,177.65 372.58,179.22 373.09,178.62 373.60,179.79 374.11,179.83 374.62,177.25 375.13,175.79 375.64,172.96 376.15,173.87 376.65,174.73 377.16,173.42 377.67,172.11 378.18,172.35 378.69,173.27 379.20,172.28 379.71,171.22 380.22,169.94 380.73,171.99 381.23,173.28 381.74,170.52 382.25,170.10 382.76,173.22 383.27,173.23 383.78,170.23 384.29,167.75 384.80,167.40 385.31,166.50 385.81,165.53 386.32,164.37 386.83,164.68 387.34,164.29 387.85,161.21 388.36,161.37 388.87,165.21 389.38,166.11 389.89,163.34 390.39,163.22 390.90,165.19 391.41,166.48 391.92,166.05 392.43,166.15 392.94,168.49 393.45,169.75 393.96,166.11 394.47,167.47 394.97,171.89 395.48,173.04 395.99,173.62 396.50,175.05 397.01,178.68 397.52,182.27 398.03,182.01 398.54,185.90 399.05,187.65 399.55,189.09 400.06,189.61 400.57,190.67 401.08,190.82 401.59,191.18 402.10,190.91 402.61,190.46 403.12,191.33 403.63,191.78 404.13,192.18 404.64,192.62 405.15,192.35 405.66,192.00 406.17,192.23 406.68,193.10 407.19,193.90 407.70,194.62 408.21,194.75 408.72,194.68 409.22,195.09 409.73,195.30 410.24,195.87 410.75,196.18 411.26,196.23 411.77,196.33 412.28,196.45 412.79,196.12 413.30,196.47 413.80,196.24 414.31,195.69 414.82,195.53 415.33,195.43 415.84,195.89 416.35,195.41 416.86,195.29 417.37,195.76 417.88,195.62 418.38,195.49 418.89,195.63 419.40,195.99 419.91,195.79 420.42,195.95 420.93,196.36 421.44,196.24 421.95,196.19 422.46,196.33 422.96,196.01 423.47,196.31 423.98,196.36 424.49,196.21 425.00,196.18 425.51,196.81 426.02,196.53 426.53,196.33 427.04,196.65 427.54,196.83 428.05,196.24 428.56,196.26 429.07,196.37 429.58,196.83 430.09,196.42 430.60,196.85 431.11,196.85 431.62,196.76 432.12,196.53 432.63,197.12 433.14,197.00 433.65,196.81 434.16,196.60 434.67,196.95 435.18,196.80 435.69,196.98 436.20,196.83 436.70,197.10 437.21,196.71 437.72,196.93 438.23,197.48 438.74,197.45 439.25,197.06 439.76,197.52 440.27,197.14 440.78,197.66 440.78,197.33" fill="none" stroke="#1e5aa6" stroke-width="1.25" stroke-linejoin="round"/>
<polyline points="325.00,197.58 346.63,197.58 347.14,188.17 347.65,206.49 348.16,197.58 351.72,197.58 352.48,193.26 352.99,202.16 353.75,190.71 354.52,203.44 355.28,194.53 356.04,200.89 356.81,190.20 357.57,203.94 358.33,195.80 359.10,199.87 359.86,197.58 362.66,197.58 363.42,193.77 364.19,201.65 364.95,195.29 365.71,200.38 366.48,197.58 368.26,195.29 369.02,199.87 369.78,196.31 370.80,199.36 371.82,195.80 372.84,199.62 373.85,196.56 374.87,198.85 375.89,197.07 377.16,195.80 377.93,199.62 378.94,196.31 379.96,199.36 380.98,197.07 382.51,195.80 383.27,199.87 384.29,197.58 385.05,191.22 385.81,203.94 386.58,193.77 387.09,205.47 387.60,194.78 388.10,204.96 388.61,195.80 389.12,204.45 389.89,197.07 390.65,202.16 391.67,195.29 392.68,200.89 393.70,196.31 394.72,199.36 395.74,197.58 397.52,197.58 416.60,197.58 417.11,188.68 417.62,199.87 418.38,197.58 420.42,196.82 421.69,198.35 422.96,197.58 450.95,197.58" fill="none" stroke="#ee1010" stroke-width="1" stroke-linejoin="round"/>
<line x1="328.8" y1="238.6" x2="344.1" y2="238.6" stroke="#1e5aa6" stroke-width="1.2"/>
<line x1="328.8" y1="247.5" x2="344.1" y2="247.5" stroke="#ee1010" stroke-width="1.2"/>
<text x="346.2" y="241.2" font-size="7.6" text-anchor="start" fill="#333" font-weight="normal" >Co-d</text>
<text x="346.2" y="250.1" font-size="7.6" text-anchor="start" fill="#333" font-weight="normal" >S-p</text>
<text x="426.5" y="250.5" font-size="9.6" text-anchor="start" fill="#333" font-weight="normal" >LCO</text>
<text x="298.2" y="161.5" font-size="22.5" text-anchor="start" fill="#000" font-weight="normal" >g</text>
<rect x="486.5" y="154.6" width="125.70000000000005" height="100.70000000000002" fill="none" stroke="#111" stroke-width="1.1"/>
<line x1="484.3" y1="163.10" x2="486.5" y2="163.10" stroke="#111" stroke-width="0.9"/>
<text x="483.9" y="165.20" font-size="7.3" text-anchor="end" fill="#222" font-weight="normal" stroke="#222" stroke-width="0.15">20</text>
<line x1="484.3" y1="180.00" x2="486.5" y2="180.00" stroke="#111" stroke-width="0.9"/>
<text x="483.9" y="182.10" font-size="7.3" text-anchor="end" fill="#222" font-weight="normal" stroke="#222" stroke-width="0.15">10</text>
<line x1="484.3" y1="196.90" x2="486.5" y2="196.90" stroke="#111" stroke-width="0.9"/>
<text x="483.9" y="199.00" font-size="7.3" text-anchor="end" fill="#222" font-weight="normal" stroke="#222" stroke-width="0.15">0</text>
<line x1="484.3" y1="213.80" x2="486.5" y2="213.80" stroke="#111" stroke-width="0.9"/>
<text x="483.9" y="215.90" font-size="7.3" text-anchor="end" fill="#222" font-weight="normal" stroke="#222" stroke-width="0.15">-10</text>
<line x1="484.3" y1="230.70" x2="486.5" y2="230.70" stroke="#111" stroke-width="0.9"/>
<text x="483.9" y="232.80" font-size="7.3" text-anchor="end" fill="#222" font-weight="normal" stroke="#222" stroke-width="0.15">-20</text>
<line x1="484.3" y1="247.60" x2="486.5" y2="247.60" stroke="#111" stroke-width="0.9"/>
<text x="483.9" y="249.70" font-size="7.3" text-anchor="end" fill="#222" font-weight="normal" stroke="#222" stroke-width="0.15">-30</text>
<line x1="485.2" y1="171.55" x2="486.5" y2="171.55" stroke="#111" stroke-width="0.8"/>
<line x1="485.2" y1="188.45" x2="486.5" y2="188.45" stroke="#111" stroke-width="0.8"/>
<line x1="485.2" y1="205.35" x2="486.5" y2="205.35" stroke="#111" stroke-width="0.8"/>
<line x1="485.2" y1="222.25" x2="486.5" y2="222.25" stroke="#111" stroke-width="0.8"/>
<line x1="485.2" y1="239.15" x2="486.5" y2="239.15" stroke="#111" stroke-width="0.8"/>
<line x1="494.88" y1="255.3" x2="494.88" y2="257.5" stroke="#111" stroke-width="0.9"/>
<text x="494.88" y="265.50" font-size="7.3" text-anchor="middle" fill="#222" font-weight="normal" stroke="#222" stroke-width="0.15">-9</text>
<line x1="520.02" y1="255.3" x2="520.02" y2="257.5" stroke="#111" stroke-width="0.9"/>
<text x="520.02" y="265.50" font-size="7.3" text-anchor="middle" fill="#222" font-weight="normal" stroke="#222" stroke-width="0.15">-6</text>
<line x1="545.16" y1="255.3" x2="545.16" y2="257.5" stroke="#111" stroke-width="0.9"/>
<text x="545.16" y="265.50" font-size="7.3" text-anchor="middle" fill="#222" font-weight="normal" stroke="#222" stroke-width="0.15">-3</text>
<line x1="570.30" y1="255.3" x2="570.30" y2="257.5" stroke="#111" stroke-width="0.9"/>
<text x="570.30" y="265.50" font-size="7.3" text-anchor="middle" fill="#222" font-weight="normal" stroke="#222" stroke-width="0.15">0</text>
<line x1="595.44" y1="255.3" x2="595.44" y2="257.5" stroke="#111" stroke-width="0.9"/>
<text x="595.44" y="265.50" font-size="7.3" text-anchor="middle" fill="#222" font-weight="normal" stroke="#222" stroke-width="0.15">3</text>
<line x1="507.45" y1="255.3" x2="507.45" y2="256.6" stroke="#111" stroke-width="0.8"/>
<line x1="532.59" y1="255.3" x2="532.59" y2="256.6" stroke="#111" stroke-width="0.8"/>
<line x1="557.73" y1="255.3" x2="557.73" y2="256.6" stroke="#111" stroke-width="0.8"/>
<line x1="582.87" y1="255.3" x2="582.87" y2="256.6" stroke="#111" stroke-width="0.8"/>
<line x1="608.01" y1="255.3" x2="608.01" y2="256.6" stroke="#111" stroke-width="0.8"/>
<text x="465.4" y="205.45" font-size="10.1" fill="#333" text-anchor="middle" transform="rotate(-90 465.4 205.45)" dy="3.5">Density of States</text>
<text x="549.0" y="274.90000000000003" font-size="10" fill="#333" text-anchor="middle">E-E<tspan font-size="6.8" dy="2.2">f</tspan><tspan dy="-2.2"> (eV)</tspan></text>
<polyline points="515.28,196.67 516.67,198.06 518.75,199.17 520.83,199.44 522.92,198.33 525.00,198.06 527.78,198.75 530.56,200.14 533.33,199.44 536.11,200.83 538.89,202.92 541.67,200.14 544.44,201.53 547.22,199.44 550.00,200.00 550.60,210.00 551.20,203.00 551.80,224.00 552.40,212.00 553.00,226.00 553.60,205.00 554.20,222.00 554.80,215.00 555.40,226.00 556.00,210.00 556.60,224.00 557.20,208.00 557.80,216.00 558.40,230.00 559.00,214.00 559.60,223.00 560.20,206.00 560.80,220.00 561.40,228.00 562.00,212.00 562.60,226.00 563.20,218.00 563.80,233.00 564.40,232.00 565.00,222.00 565.60,228.00 566.20,214.00 566.80,218.00 567.40,206.00 568.00,210.00 568.60,202.00 569.20,203.00 569.69,197.32 570.67,196.73 571.65,192.40 572.64,191.42 573.62,196.34 575.59,198.31 576.57,202.24 577.56,206.18 578.54,212.09 579.53,219.96 580.51,225.87 581.50,229.80 582.48,219.96 583.46,212.09 584.45,204.21 585.43,208.15 586.42,205.20 587.40,212.09 588.39,208.15 589.37,210.12 591.34,207.17 593.31,208.15 595.28,206.18 597.24,203.23 599.21,199.29 600.20,196.73" fill="none" stroke="#f0784e" stroke-width="1.15" stroke-linejoin="round"/>
<polyline points="505.56,196.67 508.61,196.67 509.03,187.64 509.72,196.67 512.78,196.67 513.19,187.64 513.89,196.67 514.58,188.33 515.56,192.50 516.39,175.83 517.36,191.11 518.33,182.78 519.44,173.06 520.00,169.65 520.70,173.90 521.40,176.80 522.10,188.15 522.80,193.67 523.50,191.49 524.20,190.94 524.90,186.03 525.60,188.26 526.30,187.09 527.00,183.07 527.70,182.32 528.40,181.50 529.10,185.36 529.80,180.94 530.50,180.64 531.20,180.79 531.90,177.67 532.60,177.34 533.30,181.50 534.00,179.10 534.70,178.67 535.40,181.75 536.10,182.79 536.80,177.22 537.50,177.70 538.20,177.17 538.90,177.12 539.60,172.34 540.30,170.75 541.00,171.84 541.70,176.38 542.40,179.88 543.10,172.60 543.80,170.40 544.50,169.41 545.20,169.55 545.90,170.72 546.60,168.81 547.30,172.70 548.00,174.40 548.70,172.00 549.40,170.52 550.10,170.31 550.80,174.66 551.50,172.74 552.20,164.37 552.90,162.39 553.60,161.90 554.30,164.82 555.00,167.20 555.70,174.31 556.25,177.22 556.94,180.69 558.86,182.56 559.84,184.53 560.83,184.53 561.81,190.43 562.80,194.37 564.76,196.73" fill="none" stroke="#f0784e" stroke-width="1.15" stroke-linejoin="round"/>
<polyline points="515.28,196.67 516.67,197.36 518.06,198.06 519.44,196.39 520.83,197.78 522.92,196.67 525.00,196.94 527.78,196.39 530.56,196.94 533.33,196.39 536.11,196.94 538.89,196.39 541.67,196.67 544.44,196.39 547.22,196.94 550.00,196.67 552.78,197.36 555.56,196.67 560.00,196.67" fill="none" stroke="#ee1010" stroke-width="1.15" stroke-linejoin="round"/>
<polyline points="486.50,196.70 514.58,196.67 515.56,195.28 516.39,198.75 517.22,194.58 518.06,200.83 518.89,195.28 519.72,199.44 520.83,195.97 521.94,200.14 523.06,195.28 524.31,194.58 526.39,195.00 529.17,194.17 531.94,194.72 534.72,193.89 537.50,194.44 540.28,194.17 543.06,194.72 545.83,193.89 548.61,194.44 551.39,192.50 552.78,193.89 554.86,194.58 556.94,193.89 560.00,195.00 550.98,197.32 551.97,195.35 552.95,194.37 553.94,197.32 554.53,202.24 555.12,195.35 556.30,194.37 557.87,195.35 558.66,200.28 559.45,194.37 561.81,195.35 564.76,196.34 565.75,194.37 566.54,190.43 567.32,196.34 569.69,196.34 571.65,196.73 575.59,196.73 577.56,196.34 581.50,196.73 582.28,193.98 583.07,199.49 583.86,196.73 589.37,196.73 610.04,196.73" fill="none" stroke="#ee1010" stroke-width="1.15" stroke-linejoin="round"/>
<line x1="491.4" y1="235.8" x2="507.4" y2="235.8" stroke="#f0784e" stroke-width="1.2"/>
<line x1="491.4" y1="244.9" x2="507.4" y2="244.9" stroke="#ee1010" stroke-width="1.2"/>
<text x="509.8" y="238.5" font-size="7.6" text-anchor="start" fill="#333" font-weight="normal" >Co-d</text>
<text x="509.8" y="247.5" font-size="7.6" text-anchor="start" fill="#333" font-weight="normal" >S-p</text>
<text x="570.5" y="250.2" font-size="9.6" fill="#333">LCO-V<tspan font-size="6.6" dy="2.2">La</tspan></text>
<text x="458.0" y="161.2" font-size="22.5" text-anchor="start" fill="#000" font-weight="normal" >h</text>
<polygon points="76.60,346.00 81.02,348.55 81.02,353.65 76.60,356.20 72.18,353.65 72.18,348.55" fill="none" stroke="#8a8a8a" stroke-width="0.8"/>
<polygon points="76.60,336.70 89.07,343.90 89.07,358.30 76.60,365.50 64.13,358.30 64.13,343.90" fill="none" stroke="#8a8a8a" stroke-width="0.8"/>
<polygon points="76.60,327.40 97.12,339.25 97.12,362.95 76.60,374.80 56.08,362.95 56.08,339.25" fill="none" stroke="#8a8a8a" stroke-width="0.8"/>
<polygon points="76.60,318.10 105.18,334.60 105.18,367.60 76.60,384.10 48.02,367.60 48.02,334.60" fill="none" stroke="#8a8a8a" stroke-width="0.8"/>
<polygon points="76.60,308.80 113.23,329.95 113.23,372.25 76.60,393.40 39.97,372.25 39.97,329.95" fill="none" stroke="#8a8a8a" stroke-width="0.8"/>
<polygon points="76.60,299.50 121.29,325.30 121.29,376.90 76.60,402.70 31.91,376.90 31.91,325.30" fill="none" stroke="#8a8a8a" stroke-width="0.8"/>
<line x1="76.6" y1="351.1" x2="76.60" y2="299.50" stroke="#333" stroke-width="0.8"/>
<line x1="76.6" y1="351.1" x2="121.29" y2="325.30" stroke="#333" stroke-width="0.8"/>
<line x1="76.6" y1="351.1" x2="121.29" y2="376.90" stroke="#333" stroke-width="0.8"/>
<line x1="76.6" y1="351.1" x2="76.60" y2="402.70" stroke="#333" stroke-width="0.8"/>
<line x1="76.6" y1="351.1" x2="31.91" y2="376.90" stroke="#333" stroke-width="0.8"/>
<line x1="76.6" y1="351.1" x2="31.91" y2="325.30" stroke="#333" stroke-width="0.8"/>
<polygon points="76.60,320.60 105.53,334.40 105.53,367.80 76.60,391.80 36.76,374.10 46.46,333.70" fill="#e46a42" fill-opacity="0.5"/>
<polygon points="76.60,345.60 85.87,345.75 88.72,358.10 76.60,372.10 47.76,367.75 58.24,340.50" fill="#3a64b0" fill-opacity="0.6"/>
<text x="75.2" y="348.00" font-size="5.8" text-anchor="end" fill="#444" font-weight="normal" >-1</text>
<text x="75.2" y="338.70" font-size="5.8" text-anchor="end" fill="#444" font-weight="normal" >-2</text>
<text x="75.2" y="329.40" font-size="5.8" text-anchor="end" fill="#444" font-weight="normal" >-3</text>
<text x="75.2" y="320.10" font-size="5.8" text-anchor="end" fill="#444" font-weight="normal" >-4</text>
<text x="75.2" y="310.80" font-size="5.8" text-anchor="end" fill="#444" font-weight="normal" >-5</text>
<text x="75.2" y="301.50" font-size="5.8" text-anchor="end" fill="#444" font-weight="normal" >-6</text>
<text x="78.0" y="301.4" font-size="5.8" text-anchor="start" fill="#444" font-weight="normal" >(eV)</text>
<text x="68.6" y="290.5" font-size="8.0" font-weight="bold" fill="#111" text-anchor="start">Li<tspan font-size="4.80" dy="1.8">2</tspan><tspan dy="-1.8">S</tspan></text>
<text x="125.0" y="318.7" font-size="8.0" font-weight="bold" fill="#111" text-anchor="start">Li<tspan font-size="4.80" dy="1.8">2</tspan><tspan dy="-1.8">S</tspan><tspan font-size="4.80" dy="1.8">2</tspan></text>
<text x="125.0" y="386.3" font-size="8.0" font-weight="bold" fill="#111" text-anchor="start">Li<tspan font-size="4.80" dy="1.8">2</tspan><tspan dy="-1.8">S</tspan><tspan font-size="4.80" dy="1.8">4</tspan></text>
<text x="67.2" y="414.6" font-size="8.0" font-weight="bold" fill="#111" text-anchor="start">Li<tspan font-size="4.80" dy="1.8">2</tspan><tspan dy="-1.8">S</tspan><tspan font-size="4.80" dy="1.8">6</tspan></text>
<text x="8.3" y="386.4" font-size="8.0" font-weight="bold" fill="#111" text-anchor="start">Li<tspan font-size="4.80" dy="1.8">2</tspan><tspan dy="-1.8">S</tspan><tspan font-size="4.80" dy="1.8">8</tspan></text>
<text x="18.8" y="319.8" font-size="8" font-weight="bold" fill="#111">S<tspan font-size="4.8" dy="1.8">8</tspan></text>
<rect x="110.2" y="293.7" width="5.8" height="5.4" fill="#4aa6f0"/>
<rect x="110.2" y="301.1" width="5.8" height="5.5" fill="#ef9a7a"/>
<text x="119.4" y="298.1" font-size="6.2" text-anchor="start" fill="#333" font-weight="normal" >LCO</text>
<text x="119.4" y="305.6" font-size="6.2" fill="#333">LCO-V<tspan font-size="4.8" dy="1.9">La</tspan></text>
<text x="14.5" y="298.4" font-size="22.5" text-anchor="start" fill="#000" font-weight="normal" >i</text>
<text x="148.6" y="297.6" font-size="22.5" text-anchor="start" fill="#000" font-weight="normal" >j</text>
<polygon points="265.00,298.75 256.25,298.75 254.40,300.40 253.10,302.25 252.50,304.75 253.75,306.60 255.60,307.90 256.90,309.75 259.40,311.60 261.25,313.50 262.25,316.00 262.75,319.75 263.10,323.50 262.75,327.25 263.50,331.00 263.10,333.50 264.00,335.40 260.60,337.25 256.90,339.75 258.75,341.00 255.00,342.90 250.00,344.10 248.10,345.00 251.25,346.00 255.00,346.60 260.00,347.50 264.40,348.50 264.60,349.20 263.80,349.80 265.00,351.00 261.20,351.90 249.50,353.20 238.40,353.80 242.30,355.10 240.40,357.10 243.00,357.70 253.40,359.00 261.20,360.30 264.40,362.30 265.30,363.30 269.00,364.20 274.20,367.50 278.70,369.40 275.50,370.10 270.90,371.40 270.30,372.70 275.50,374.00 285.20,376.60 281.90,377.20 276.80,378.50 274.80,380.50 276.80,382.40 279.40,385.70 278.10,387.00 276.10,389.60 275.50,392.20 272.90,394.80 270.30,396.70 267.70,398.60 266.40,399.90 265.30,401.20" fill="#f58a68" fill-opacity="0.92"/>
<polygon points="202.50,301.00 201.30,303.00 201.00,308.00 200.80,312.00 199.50,315.00 200.00,317.00 201.50,318.50 202.00,321.00 202.50,323.00 202.50,355.00 201.50,357.00 200.00,359.50 201.50,361.00 200.50,364.00 198.80,367.00 200.50,368.50 202.50,369.00 205.00,369.50 207.20,371.00 205.00,372.50 203.50,374.00 204.00,378.00 203.00,382.00 203.80,387.00 203.00,392.00 203.60,397.00 202.50,401.00" fill="#3a78c0" stroke="#2a6cb4" stroke-width="0.8" stroke-linejoin="round"/>
<circle cx="203.1" cy="326" r="0.7" fill="#2a6cb4"/>
<circle cx="203.1" cy="333" r="0.7" fill="#2a6cb4"/>
<circle cx="203.1" cy="341" r="0.7" fill="#2a6cb4"/>
<line x1="202.6" y1="298.6" x2="202.6" y2="401.3" stroke="#5a8cc8" stroke-width="0.6"/>
<line x1="265.3" y1="298.6" x2="265.3" y2="401.3" stroke="#555" stroke-width="0.9"/>
<line x1="229.6" y1="298.6" x2="229.6" y2="401.3" stroke="#444" stroke-width="0.9"/>
<line x1="166.5" y1="349.6" x2="292.4" y2="349.6" stroke="#333" stroke-width="0.8" stroke-dasharray="1.6 1.6"/>
<rect x="166.8" y="299.1" width="125.6" height="102" fill="none" stroke="#111" stroke-width="1.3"/>
<line x1="164.8" y1="298.60" x2="166.8" y2="298.60" stroke="#111" stroke-width="0.9"/>
<text x="162.8" y="301.60" font-size="8.6" text-anchor="end" fill="#222" font-weight="normal" >6</text>
<line x1="164.8" y1="324.10" x2="166.8" y2="324.10" stroke="#111" stroke-width="0.9"/>
<text x="162.8" y="327.10" font-size="8.6" text-anchor="end" fill="#222" font-weight="normal" >3</text>
<line x1="164.8" y1="349.60" x2="166.8" y2="349.60" stroke="#111" stroke-width="0.9"/>
<text x="162.8" y="352.60" font-size="8.6" text-anchor="end" fill="#222" font-weight="normal" >0</text>
<line x1="164.8" y1="375.10" x2="166.8" y2="375.10" stroke="#111" stroke-width="0.9"/>
<text x="162.8" y="378.10" font-size="8.6" text-anchor="end" fill="#222" font-weight="normal" >-3</text>
<line x1="164.8" y1="400.60" x2="166.8" y2="400.60" stroke="#111" stroke-width="0.9"/>
<text x="162.8" y="403.60" font-size="8.6" text-anchor="end" fill="#222" font-weight="normal" >-6</text>
<line x1="165.6" y1="311.35" x2="166.8" y2="311.35" stroke="#111" stroke-width="0.8"/>
<line x1="165.6" y1="336.85" x2="166.8" y2="336.85" stroke="#111" stroke-width="0.8"/>
<line x1="165.6" y1="362.35" x2="166.8" y2="362.35" stroke="#111" stroke-width="0.8"/>
<line x1="165.6" y1="387.85" x2="166.8" y2="387.85" stroke="#111" stroke-width="0.8"/>
<line x1="166.3" y1="401.3" x2="166.3" y2="403.3" stroke="#111" stroke-width="0.9"/>
<text x="166.30" y="410.5" font-size="8.6" text-anchor="middle" fill="#222" font-weight="normal" >-1.0</text>
<line x1="184.45" y1="401.3" x2="184.45" y2="403.3" stroke="#111" stroke-width="0.9"/>
<text x="184.45" y="410.5" font-size="8.6" text-anchor="middle" fill="#222" font-weight="normal" >-0.5</text>
<line x1="202.6" y1="401.3" x2="202.6" y2="403.3" stroke="#111" stroke-width="0.9"/>
<text x="202.60" y="410.5" font-size="8.6" text-anchor="middle" fill="#222" font-weight="normal" >0.0</text>
<line x1="220.75" y1="401.3" x2="220.75" y2="403.3" stroke="#111" stroke-width="0.9"/>
<text x="220.75" y="410.5" font-size="8.6" text-anchor="middle" fill="#222" font-weight="normal" >0.5</text>
<line x1="229.2" y1="401.3" x2="229.2" y2="403.3" stroke="#111" stroke-width="0.9"/>
<text x="229.20" y="410.5" font-size="8.6" text-anchor="middle" fill="#222" font-weight="normal" >-1.0</text>
<line x1="247.5" y1="401.3" x2="247.5" y2="403.3" stroke="#111" stroke-width="0.9"/>
<text x="247.50" y="410.5" font-size="8.6" text-anchor="middle" fill="#222" font-weight="normal" >-0.5</text>
<line x1="265.8" y1="401.3" x2="265.8" y2="403.3" stroke="#111" stroke-width="0.9"/>
<text x="265.80" y="410.5" font-size="8.6" text-anchor="middle" fill="#222" font-weight="normal" >0.0</text>
<line x1="284.1" y1="401.3" x2="284.1" y2="403.3" stroke="#111" stroke-width="0.9"/>
<text x="284.10" y="410.5" font-size="8.6" text-anchor="middle" fill="#222" font-weight="normal" >0.5</text>
<text x="148.4" y="346.7" font-size="9.6" fill="#333" text-anchor="middle" transform="rotate(-90 148.4 346.7)" dy="3.3">Energy (eV)</text>
<text x="231.1" y="420.3" font-size="9.8" text-anchor="middle" fill="#333" font-weight="normal" >-COHP</text>
<text x="170.0" y="397.4" font-size="7" text-anchor="start" fill="#333" font-weight="normal" >LCO</text>
<text x="232.2" y="397.6" font-size="7" fill="#333">LCO-V<tspan font-size="4.8" dy="1.7">La</tspan></text>
<text x="300.8" y="297.6" font-size="22.5" text-anchor="start" fill="#000" font-weight="normal" >k</text>
<rect x="321.2" y="298.8" width="291.2" height="97.6" fill="none" stroke="#111" stroke-width="1.3"/>
<line x1="319.2" y1="314.70" x2="321.2" y2="314.70" stroke="#111" stroke-width="0.9"/>
<text x="318.0" y="317.00" font-size="6.6" text-anchor="end" fill="#333" font-weight="normal" >0</text>
<line x1="319.2" y1="347.58" x2="321.2" y2="347.58" stroke="#111" stroke-width="0.9"/>
<text x="318.0" y="349.88" font-size="6.6" text-anchor="end" fill="#333" font-weight="normal" >-4</text>
<line x1="319.2" y1="380.46" x2="321.2" y2="380.46" stroke="#111" stroke-width="0.9"/>
<text x="318.0" y="382.76" font-size="6.6" text-anchor="end" fill="#333" font-weight="normal" >-8</text>
<line x1="320" y1="331.14" x2="321.2" y2="331.14" stroke="#111" stroke-width="0.8"/>
<line x1="320" y1="364.02" x2="321.2" y2="364.02" stroke="#111" stroke-width="0.8"/>
<line x1="367.70" y1="314.70" x2="384.65" y2="337.14" stroke="#1a5aa8" stroke-width="0.9" stroke-dasharray="0.9 2.4" stroke-opacity="0.55"/>
<line x1="404.15" y1="337.14" x2="421.10" y2="366.24" stroke="#1a5aa8" stroke-width="0.9" stroke-dasharray="0.9 2.4" stroke-opacity="0.55"/>
<line x1="440.60" y1="366.24" x2="457.55" y2="355.31" stroke="#1a5aa8" stroke-width="0.9" stroke-dasharray="0.9 2.4" stroke-opacity="0.55"/>
<line x1="477.05" y1="355.31" x2="494.00" y2="346.43" stroke="#1a5aa8" stroke-width="0.9" stroke-dasharray="0.9 2.4" stroke-opacity="0.55"/>
<line x1="513.50" y1="346.43" x2="530.45" y2="334.76" stroke="#1a5aa8" stroke-width="0.9" stroke-dasharray="0.9 2.4" stroke-opacity="0.55"/>
<line x1="549.95" y1="334.76" x2="566.90" y2="323.17" stroke="#1a5aa8" stroke-width="0.9" stroke-dasharray="0.9 2.4" stroke-opacity="0.55"/>
<line x1="367.70" y1="314.70" x2="384.65" y2="349.22" stroke="#f0683a" stroke-width="0.9" stroke-dasharray="0.9 2.4" stroke-opacity="0.55"/>
<line x1="404.15" y1="349.22" x2="421.10" y2="377.09" stroke="#f0683a" stroke-width="0.9" stroke-dasharray="0.9 2.4" stroke-opacity="0.55"/>
<line x1="440.60" y1="377.09" x2="457.55" y2="372.40" stroke="#f0683a" stroke-width="0.9" stroke-dasharray="0.9 2.4" stroke-opacity="0.55"/>
<line x1="477.05" y1="372.40" x2="494.00" y2="364.43" stroke="#f0683a" stroke-width="0.9" stroke-dasharray="0.9 2.4" stroke-opacity="0.55"/>
<line x1="513.50" y1="364.43" x2="530.45" y2="355.39" stroke="#f0683a" stroke-width="0.9" stroke-dasharray="0.9 2.4" stroke-opacity="0.55"/>
<line x1="549.95" y1="355.39" x2="566.90" y2="345.03" stroke="#f0683a" stroke-width="0.9" stroke-dasharray="0.9 2.4" stroke-opacity="0.55"/>
<line x1="384.65" y1="337.14" x2="404.15" y2="337.14" stroke="#1a5aa8" stroke-width="1.8"/>
<line x1="421.10" y1="366.24" x2="440.60" y2="366.24" stroke="#1a5aa8" stroke-width="1.8"/>
<line x1="457.55" y1="355.31" x2="477.05" y2="355.31" stroke="#1a5aa8" stroke-width="1.8"/>
<line x1="494.00" y1="346.43" x2="513.50" y2="346.43" stroke="#1a5aa8" stroke-width="1.8"/>
<line x1="530.45" y1="334.76" x2="549.95" y2="334.76" stroke="#1a5aa8" stroke-width="1.8"/>
<line x1="566.90" y1="323.17" x2="586.40" y2="323.17" stroke="#1a5aa8" stroke-width="1.8"/>
<line x1="348.20" y1="314.70" x2="367.70" y2="314.70" stroke="#f0683a" stroke-width="1.8"/>
<line x1="384.65" y1="349.22" x2="404.15" y2="349.22" stroke="#f0683a" stroke-width="1.8"/>
<line x1="421.10" y1="377.09" x2="440.60" y2="377.09" stroke="#f0683a" stroke-width="1.8"/>
<line x1="457.55" y1="372.40" x2="477.05" y2="372.40" stroke="#f0683a" stroke-width="1.8"/>
<line x1="494.00" y1="364.43" x2="513.50" y2="364.43" stroke="#f0683a" stroke-width="1.8"/>
<line x1="530.45" y1="355.39" x2="549.95" y2="355.39" stroke="#f0683a" stroke-width="1.8"/>
<line x1="566.90" y1="345.03" x2="586.40" y2="345.03" stroke="#f0683a" stroke-width="1.8"/>
<text x="384.8" y="325.4" font-size="7.4" text-anchor="middle" fill="#1a5aa8" font-weight="normal" >-2.73</text>
<text x="368.7" y="339.3" font-size="7.4" text-anchor="middle" fill="#f0683a" font-weight="normal" >-4.2</text>
<text x="419.3" y="347.4" font-size="7.4" text-anchor="middle" fill="#1a5aa8" font-weight="normal" >-3.54</text>
<text x="403.3" y="370.4" font-size="7.4" text-anchor="middle" fill="#f0683a" font-weight="normal" >-3.39</text>
<text x="443.0" y="359.0" font-size="7.4" text-anchor="middle" fill="#1a5aa8" font-weight="normal" >1.33</text>
<text x="450.6" y="384.0" font-size="7.4" text-anchor="middle" fill="#f0683a" font-weight="normal" >0.57</text>
<text x="479.2" y="346.7" font-size="7.4" text-anchor="middle" fill="#1a5aa8" font-weight="normal" >1.08</text>
<text x="488.0" y="378.2" font-size="7.4" text-anchor="middle" fill="#f0683a" font-weight="normal" >0.97</text>
<text x="513.9" y="337.0" font-size="7.4" text-anchor="middle" fill="#1a5aa8" font-weight="normal" >1.42</text>
<text x="525.2" y="369.5" font-size="7.4" text-anchor="middle" fill="#f0683a" font-weight="normal" >1.10</text>
<text x="552.5" y="324.7" font-size="7.4" text-anchor="middle" fill="#1a5aa8" font-weight="normal" >1.41</text>
<text x="565.0" y="359.4" font-size="7.4" text-anchor="middle" fill="#f0683a" font-weight="normal" >1.26</text>
<text x="358.45" y="404.2" font-size="7.2" fill="#222" text-anchor="middle" stroke="#222" stroke-width="0.15"><tspan font-size="7.2" dy="0.00">S</tspan><tspan font-size="5.2" dy="2.00">8</tspan></text>
<text x="394.90" y="404.2" font-size="7.2" fill="#222" text-anchor="middle" stroke="#222" stroke-width="0.15"><tspan font-size="7.2" dy="0.00">S</tspan><tspan font-size="5.2" dy="2.00">8</tspan><tspan font-size="7.4" font-weight="bold" dy="-2.60">*</tspan></text>
<text x="431.35" y="404.2" font-size="7.2" fill="#222" text-anchor="middle" stroke="#222" stroke-width="0.15"><tspan font-size="7.2" dy="0.00">Li</tspan><tspan font-size="5.2" dy="2.00">2</tspan><tspan font-size="7.2" dy="-2.00">S</tspan><tspan font-size="5.2" dy="2.00">8</tspan><tspan font-size="7.4" font-weight="bold" dy="-2.60">*</tspan></text>
<text x="467.80" y="404.2" font-size="7.2" fill="#222" text-anchor="middle" stroke="#222" stroke-width="0.15"><tspan font-size="7.2" dy="0.00">Li</tspan><tspan font-size="5.2" dy="2.00">2</tspan><tspan font-size="7.2" dy="-2.00">S</tspan><tspan font-size="5.2" dy="2.00">6</tspan><tspan font-size="7.4" font-weight="bold" dy="-2.60">*</tspan></text>
<text x="504.25" y="404.2" font-size="7.2" fill="#222" text-anchor="middle" stroke="#222" stroke-width="0.15"><tspan font-size="7.2" dy="0.00">Li</tspan><tspan font-size="5.2" dy="2.00">2</tspan><tspan font-size="7.2" dy="-2.00">S</tspan><tspan font-size="5.2" dy="2.00">4</tspan><tspan font-size="7.4" font-weight="bold" dy="-2.60">*</tspan></text>
<text x="540.70" y="404.2" font-size="7.2" fill="#222" text-anchor="middle" stroke="#222" stroke-width="0.15"><tspan font-size="7.2" dy="0.00">Li</tspan><tspan font-size="5.2" dy="2.00">2</tspan><tspan font-size="7.2" dy="-2.00">S</tspan><tspan font-size="5.2" dy="2.00">2</tspan><tspan font-size="7.4" font-weight="bold" dy="-2.60">*</tspan></text>
<text x="577.15" y="404.2" font-size="7.2" fill="#222" text-anchor="middle" stroke="#222" stroke-width="0.15"><tspan font-size="7.2" dy="0.00">Li</tspan><tspan font-size="5.2" dy="2.00">2</tspan><tspan font-size="7.2" dy="-2.00">S</tspan><tspan font-size="7.4" font-weight="bold" dy="-0.60">*</tspan></text>
<text x="466.6" y="415.1" font-size="9.7" text-anchor="middle" fill="#333" font-weight="normal" >Reaction pathway</text>
<text x="304.9" y="347.3" font-size="9.65" fill="#333" text-anchor="middle" transform="rotate(-90 304.9 347.3)" dy="3.3">Free energy (eV)</text>
<line x1="330.2" y1="380.8" x2="347.3" y2="380.8" stroke="#1a5aa8" stroke-width="1.8"/>
<line x1="330.2" y1="389.9" x2="347.3" y2="389.9" stroke="#f0683a" stroke-width="1.8"/>
<text x="348.6" y="383.7" font-size="7.6" text-anchor="start" fill="#333" font-weight="normal" >LCO</text>
<text x="348.6" y="392.8" font-size="7.6" fill="#333">LCO-V<tspan font-size="5.2" dy="1.8">La</tspan></text>
<line x1="627.9" y1="12" x2="627.9" y2="432" stroke="#f6f6f6" stroke-width="1"/>
</svg>
</body></html>
